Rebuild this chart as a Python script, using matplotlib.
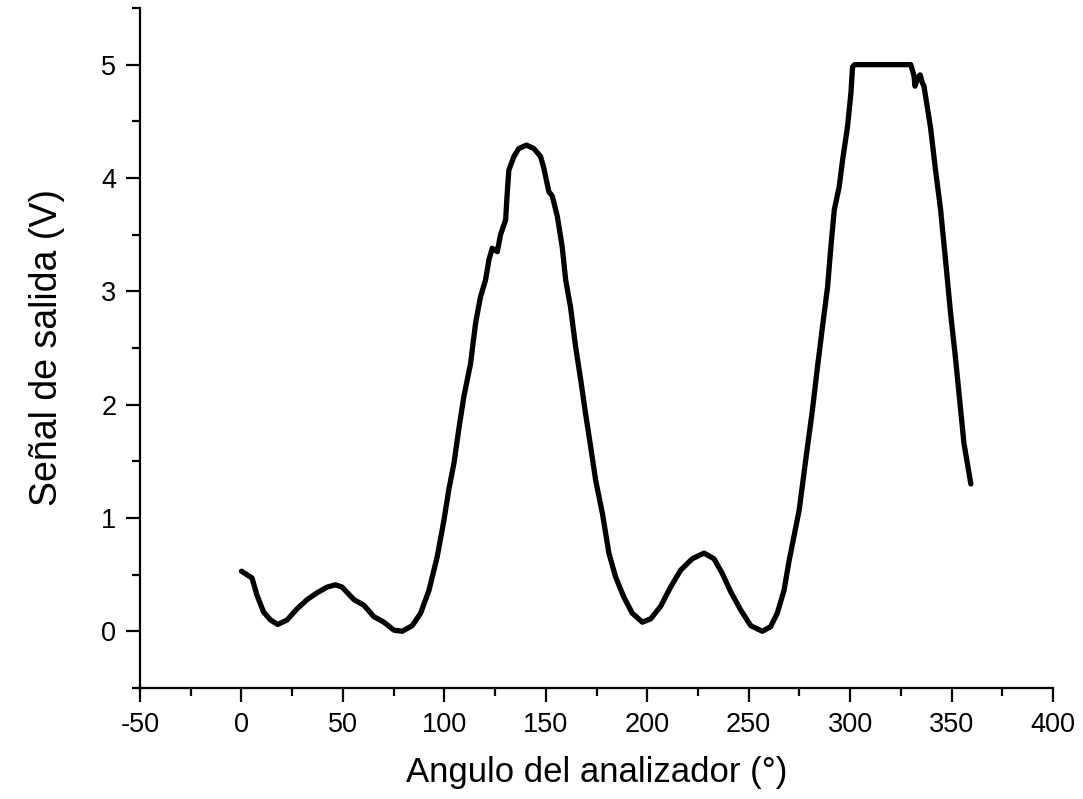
import numpy as np
import matplotlib.pyplot as plt
from matplotlib.ticker import MultipleLocator

plt.rcParams['font.family'] = ['Liberation Sans', 'DejaVu Sans']
plt.rcParams['axes.unicode_minus'] = False

# Angulo del analizador (grados) y señal de salida (V)
angulo = [0, 5.2, 7.6, 10.9, 14.3, 17.9, 22.5, 27.5, 32.4, 37.3, 42.2, 46.3, 49.6,
          55.4, 60.3, 65.2, 70.2, 75.1, 79.2, 84.2, 88.3, 92.4, 96.5, 99.8, 102.2,
          104.7, 107.1, 109.6, 112.9, 115.4, 117.8, 120.3, 122.0, 123.6, 126.1,
          127.7, 130.2, 131.0, 131.8, 134.3, 136.7, 140.5, 144.1, 147.4, 149.0,
          151.5, 153.2, 155.7, 158.1, 159.8, 162.2, 164.7, 167.2, 169.6, 172.1,
          174.6, 177.9, 181.1, 184.4, 188.5, 192.6, 197.6, 201.7, 206.6, 211.5,
          216.5, 222.2, 228.0, 232.9, 237.0, 241.1, 246.0, 251.0, 256.7, 260.8,
          264.1, 267.4, 269.9, 274.9, 278.1, 281.4, 283.9, 286.4, 288.9, 290.5,
          292.2, 294.6, 296.3, 298.7, 300.4, 301.2, 302.2, 310.0, 320.0, 329.9,
          331.5, 332.0, 333.2, 334.5, 335.6, 336.4, 339.6, 342.1, 344.6, 347.0,
          349.5, 352.0, 354.5, 356.1, 359.5]
senal = [0.53, 0.47, 0.32, 0.17, 0.10, 0.06, 0.10, 0.20, 0.28, 0.34, 0.39, 0.41, 0.39,
         0.28, 0.23, 0.13, 0.08, 0.01, 0.00, 0.05, 0.16, 0.36, 0.66, 0.98, 1.25,
         1.48, 1.78, 2.07, 2.36, 2.72, 2.95, 3.10, 3.28, 3.38, 3.35,
         3.50, 3.63, 3.87, 4.07, 4.19, 4.26, 4.29, 4.26, 4.19, 4.09,
         3.88, 3.84, 3.66, 3.39, 3.10, 2.86, 2.51, 2.22, 1.92, 1.63,
         1.33, 1.04, 0.69, 0.48, 0.30, 0.16, 0.08, 0.11, 0.22, 0.39,
         0.54, 0.64, 0.69, 0.64, 0.51, 0.35, 0.19, 0.05, 0.00, 0.04,
         0.16, 0.36, 0.62, 1.07, 1.51, 1.95, 2.33, 2.69, 3.04, 3.39,
         3.72, 3.92, 4.16, 4.45, 4.75, 4.98, 5.00, 5.00, 5.00, 5.00,
         4.90, 4.81, 4.88, 4.91, 4.84, 4.81, 4.45, 4.07, 3.72, 3.28,
         2.81, 2.40, 1.95, 1.66, 1.30]

fig = plt.figure(figsize=(10.83, 7.99), dpi=100)
ax = fig.add_axes([0.1293, 0.139, 0.843, 0.851])

ax.plot(angulo, senal, color='black', linewidth=3.8, solid_joinstyle='round',
        solid_capstyle='round')

ax.set_xlim(-50, 400)
ax.set_ylim(-0.5, 5.5)
ax.xaxis.set_major_locator(MultipleLocator(50))
ax.xaxis.set_minor_locator(MultipleLocator(25))
ax.yaxis.set_major_locator(MultipleLocator(1))
ax.yaxis.set_minor_locator(MultipleLocator(0.5))

for side in ['top', 'right']:
    ax.spines[side].set_visible(False)
for side in ['left', 'bottom']:
    ax.spines[side].set_linewidth(1.6)

ax.tick_params(which='major', direction='out', length=10, width=1.6,
               labelsize=19.5, pad=7)
ax.tick_params(which='minor', direction='out', length=5.5, width=1.6)

ax.set_xlabel('Angulo del analizador (°)', fontsize=25, labelpad=13)
ax.set_ylabel('Señal de salida (V)', fontsize=27, labelpad=26)

fig.savefig('out.png', dpi=100)
